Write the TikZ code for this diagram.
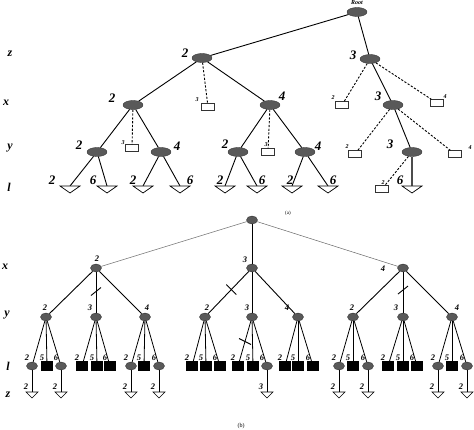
\documentclass[tikz,border=0pt]{standalone}
\usepackage{fontspec}
\setmainfont{Liberation Serif}
\usetikzlibrary{calc,positioning,shapes.geometric}

\begin{document}
\begin{tikzpicture}[x=1pt,y=-1pt,
    tnode/.style={ellipse,draw=black!80,fill=black!65,minimum width=20pt,minimum height=9pt,inner sep=0pt},
    bnode/.style={ellipse,draw=black!80,fill=black!65,minimum width=11pt,minimum height=8pt,inner sep=0pt},
    lc/.style={bnode},
    ls/.style={rectangle,fill=black,minimum width=12pt,minimum height=9pt,inner sep=0pt},
    osq/.style={rectangle,draw=black!80,fill=white,minimum width=13pt,minimum height=7pt,inner sep=0pt},
    bignum/.style={font=\fontsize{13}{13}\selectfont\bfseries\itshape,inner sep=0pt},
    tinynum/.style={font=\fontsize{6}{6}\selectfont\bfseries\itshape,inner sep=0pt},
    smallnum/.style={font=\fontsize{8.5}{8.5}\selectfont\bfseries\itshape,inner sep=0pt},
    axislab/.style={font=\fontsize{12}{12}\selectfont\bfseries\itshape,inner sep=0pt},
    tedge/.style={line width=0.9pt},
    tdash/.style={line width=0.9pt,dash pattern=on 2.2pt off 1.6pt},
    btri/.pic={\draw[line width=0.7pt,fill=white] (-10,0) -- (10,0) -- (0,7) -- cycle;},
    stri/.pic={\draw[line width=0.6pt,fill=white] (-6,0) -- (6,0) -- (0,6) -- cycle;},
  ]
  \useasboundingbox (0,0) rectangle (474,430);

  % ---------------- (a)
  \node[tnode] (r) at (357,12) {};
  \node[tinynum] at (357,3) {Root};
  \node[tnode] (z2) at (202,58) {};
  \node[tnode] (z3) at (370,59) {};
  \node[tnode] (x2) at (133,105) {};
  \node[tnode] (x4) at (270,105) {};
  \node[tnode] (x3) at (393,105) {};
  \node[osq] (s23) at (208,107) {};
  \node[osq] (s32) at (342,105) {};
  \node[osq] (s34) at (437,103) {};
  \node[tnode] (y22) at (97,152) {};
  \node[tnode] (y24) at (161,152) {};
  \node[tnode] (y42) at (238,152) {};
  \node[tnode] (y44) at (305,152) {};
  \node[tnode] (y33) at (412,152) {};
  \node[osq] (s223) at (132,148) {};
  \node[osq] (s423) at (268,152) {};
  \node[osq] (s332) at (355,154) {};
  \node[osq] (s334) at (455,154) {};
  \node[osq] (s3332) at (382,189) {};
  \foreach \n/\xx in {1/70,2/107,3/143,4/180,5/225,6/257,7/292,8/328,9/412}
    \coordinate (t\n) at (\xx,186);

  \draw[tedge] (r) -- (z2);
  \draw[tedge] (r) -- (z3);
  \draw[tedge] (z2) -- (x2);
  \draw[tedge] (z2) -- (x4);
  \draw[tdash] (z2) -- (s23);
  \draw[tedge] (z3) -- (x3);
  \draw[tdash] (z3) -- (s32);
  \draw[tdash] (z3) -- (s34);
  \draw[tedge] (x2) -- (y22);
  \draw[tedge] (x2) -- (y24);
  \draw[tdash] (x2) -- (s223);
  \draw[tedge] (x4) -- (y42);
  \draw[tedge] (x4) -- (y44);
  \draw[tdash] (x4) -- (s423);
  \draw[tedge] (x3) -- (y33);
  \draw[tdash] (x3) -- (s332);
  \draw[tdash] (x3) -- (s334);
  \draw[tedge] (y22) -- (t1);
  \draw[tedge] (y22) -- (t2);
  \draw[tedge] (y24) -- (t3);
  \draw[tedge] (y24) -- (t4);
  \draw[tedge] (y42) -- (t5);
  \draw[tedge] (y42) -- (t6);
  \draw[tedge] (y44) -- (t7);
  \draw[tedge] (y44) -- (t8);
  \draw[line width=1.6pt,black!70] (y33) -- (t9);
  \draw[tdash] (y33) -- (s3332);
  \foreach \n in {1,...,9}
    \pic at (t\n) {btri};

  \node[bignum] at (185,53) {2};
  \node[bignum] at (353,55) {3};
  \node[bignum] at (112,98) {2};
  \node[tinynum] at (197,100) {3};
  \node[bignum] at (282,96) {4};
  \node[tinynum] at (333,98) {2};
  \node[bignum] at (378,96) {3};
  \node[tinynum] at (445,97) {4};
  \node[bignum] at (79,145) {2};
  \node[tinynum] at (123,143) {3};
  \node[bignum] at (177,146) {4};
  \node[bignum] at (225,144) {2};
  \node[tinynum] at (266,145) {3};
  \node[bignum] at (318,146) {4};
  \node[tinynum] at (347,147) {2};
  \node[bignum] at (390,144) {3};
  \node[tinynum] at (470,148) {4};
  \foreach \xx/\lab in {52/2,93/6,133/2,190/6,220/2,262/6,290/2,333/6,400/6}
    \node[bignum] at (\xx,180) {\lab};
  \node[tinynum] at (383,183) {2};

  \node[axislab] at (10,54) {z};
  \node[axislab] at (6,103) {x};
  \node[axislab] at (10,148) {y};
  \node[axislab] at (9,187) {l};
  \node[font=\fontsize{5}{5}\selectfont] at (288,213) {(a)};

  % ---------------- (b)
  \node[bnode] (b) at (252,220) {};
  \node[bnode] (bx2) at (96,268) {};
  \node[bnode] (bx3) at (252,268) {};
  \node[bnode] (bx4) at (403,268) {};
  \draw[line width=0.5pt,black!60] (b) -- (bx2);
  \draw[line width=0.5pt,black!60] (b) -- (bx4);
  \draw[tedge] (b) -- (bx3);
  \foreach \pa/\xx in {bx2/46,bx2/96,bx2/145,bx3/205,bx3/252,bx3/298,bx4/353,bx4/403,bx4/452} {
    \node[bnode] (by\xx) at (\xx,317) {};
    \draw[tedge] (\pa) -- (by\xx);
  }
  \node[smallnum] at (97,259) {2};
  \node[smallnum] at (245,260) {3};
  \node[smallnum] at (383,269) {4};
  \foreach \xx/\lab in {45/2,90/3,147/4,207/2,247/3,287/4,352/2,396/3,457/4}
    \node[smallnum] at (\xx,308) {\lab};

  % level l
  \foreach \pa/\lst in {by46/{32/c/2,47/s/5,61/c/6},
                        by96/{82/s/2,97/s/5,110/s/6},
                        by145/{131/c/2,144/s/5,159/c/6},
                        by205/{192/s/2,206/s/5,220/s/6},
                        by252/{238/s/2,253/s/5,267/c/6},
                        by298/{285/s/2,298/s/5,313/s/6},
                        by353/{339/c/2,353/s/5,368/c/6},
                        by403/{388/s/2,403/s/5,417/s/6},
                        by452/{438/c/2,452/s/5,467/c/6}} {
    \foreach \xx/\k/\lab in \lst {
      \node[l\k] (bl\xx) at (\xx,366) {};
      \draw[line width=0.8pt] (\pa) -- (bl\xx);
      \node[smallnum] at ({\xx-5},358) {\lab};
    }
  }

  % level z
  \foreach \xx/\lab in {32/2,61/2,131/2,159/2,267/3,339/2,368/2,438/2,467/2} {
    \coordinate (bz\xx) at (\xx,392);
    \draw[line width=0.8pt] (bl\xx) -- (bz\xx);
    \pic at (bz\xx) {stri};
    \node[smallnum] at ({\xx-6},387) {\lab};
  }

  % cuts
  \draw[line width=0.9pt] ($(bx2)!0.48!(by96)$) ++(-5,4) -- ++(10,-8);
  \draw[line width=0.9pt] ($(bx3)!0.44!(by205)$) ++(-5,-5) -- ++(10,10);
  \draw[line width=0.9pt] ($(bx4)!0.45!(by403)$) ++(-5,4) -- ++(10,-8);
  \draw[line width=0.9pt] ($(by252)!0.5!(bl238)$) ++(-6,-3) -- ++(12,6);

  \node[axislab] at (5,267) {x};
  \node[axislab] at (7,315) {y};
  \node[axislab] at (8,366) {l};
  \node[axislab] at (8,395) {z};
  \node[font=\fontsize{6}{6}\selectfont] at (241,426) {(b)};
\end{tikzpicture}
\end{document}
